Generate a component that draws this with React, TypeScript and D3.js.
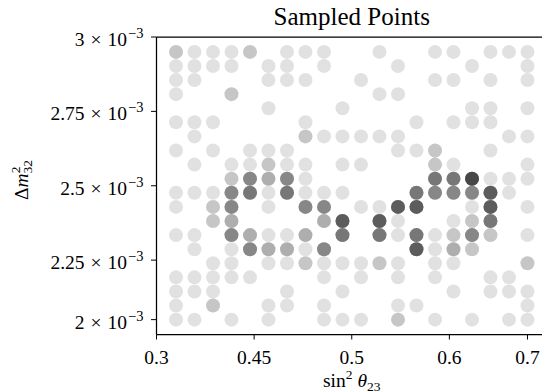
import React from "react";
import * as d3 from "d3";

// sin^2(theta23) sample grid (columns)
const xValues = [
  0.32, 0.3389, 0.3579, 0.3768, 0.3958, 0.4147, 0.4337, 0.4526, 0.4716, 0.4905,
  0.5095, 0.5284, 0.5474, 0.5663, 0.5853, 0.6042, 0.6232, 0.6421, 0.6611, 0.68,
];
// Delta m^2_32 sample grid (rows, top to bottom)
const yValues = [
  2.95e-3, 2.9026e-3, 2.8553e-3, 2.8079e-3, 2.7605e-3, 2.7132e-3, 2.6658e-3, 2.6184e-3,
  2.5711e-3, 2.5237e-3, 2.4763e-3, 2.4289e-3, 2.3816e-3, 2.3342e-3, 2.2868e-3, 2.2395e-3,
  2.1921e-3, 2.1447e-3, 2.0974e-3, 2.05e-3,
];
// number of samples at each grid cell (rows top to bottom, columns left to right)
const counts = [
  [2, 1, 1, 1, 2, 0, 1, 1, 1, 0, 0, 1, 0, 0, 1, 1, 0, 1, 1, 1],
  [1, 1, 1, 1, 0, 1, 1, 0, 1, 0, 0, 0, 1, 0, 0, 0, 1, 0, 0, 1],
  [1, 1, 0, 0, 0, 1, 1, 1, 0, 0, 1, 0, 0, 0, 1, 1, 0, 1, 0, 1],
  [1, 0, 0, 2, 0, 0, 0, 0, 0, 0, 0, 1, 1, 0, 0, 0, 0, 0, 0, 0],
  [0, 0, 0, 0, 0, 1, 0, 0, 0, 1, 0, 0, 0, 0, 0, 0, 1, 1, 0, 1],
  [1, 1, 1, 0, 0, 0, 0, 1, 0, 0, 0, 0, 0, 1, 0, 1, 1, 1, 0, 0],
  [0, 1, 0, 0, 0, 0, 0, 2, 1, 1, 1, 1, 1, 0, 0, 0, 0, 0, 1, 1],
  [1, 0, 1, 0, 1, 1, 1, 0, 0, 0, 0, 0, 1, 1, 2, 0, 0, 1, 0, 0],
  [0, 1, 0, 1, 1, 2, 1, 1, 0, 1, 1, 0, 0, 0, 2, 1, 0, 0, 0, 1],
  [0, 0, 0, 2, 5, 3, 5, 1, 0, 0, 0, 0, 0, 0, 6, 6, 10, 1, 1, 1],
  [1, 1, 1, 5, 6, 1, 6, 1, 1, 1, 0, 0, 0, 6, 5, 5, 5, 8, 1, 0],
  [1, 0, 2, 5, 0, 1, 0, 5, 5, 0, 1, 1, 8, 8, 0, 0, 1, 8, 0, 1],
  [0, 0, 2, 3, 0, 0, 0, 0, 3, 8, 0, 8, 1, 0, 0, 1, 2, 6, 0, 0],
  [1, 1, 0, 5, 3, 1, 1, 3, 0, 6, 0, 6, 1, 6, 1, 2, 5, 2, 0, 1],
  [0, 1, 0, 1, 5, 3, 3, 1, 5, 0, 0, 0, 0, 8, 1, 3, 2, 0, 0, 0],
  [0, 0, 1, 1, 0, 1, 1, 2, 1, 1, 1, 2, 1, 0, 1, 1, 0, 0, 0, 2],
  [1, 1, 1, 1, 1, 0, 0, 0, 1, 0, 1, 0, 1, 0, 1, 0, 0, 1, 1, 0],
  [1, 1, 1, 0, 0, 0, 1, 0, 0, 1, 0, 0, 0, 0, 0, 1, 0, 1, 1, 1],
  [1, 0, 2, 0, 0, 1, 1, 0, 1, 0, 0, 0, 1, 1, 0, 0, 0, 0, 0, 1],
  [1, 1, 0, 1, 0, 1, 0, 0, 1, 1, 1, 0, 2, 0, 1, 0, 1, 0, 1, 1],
];

const xTickValues = [0.3, 0.4, 0.5, 0.6, 0.68];
const xTickLabels = ["0.3", "0.45", "0.5", "0.6", "0.7"];
const yTickValues = [3e-3, 2.75e-3, 2.5e-3, 2.25e-3, 2.05e-3];
const yTickMantissas = ["3", "2.75", "2.5", "2.25", "2"];
const yTickExponent = "\u22123";
const title = "Sampled Points";

const W = 542;
const H = 392;
const FONT = '"Liberation Serif", "DejaVu Serif", serif';

export default function App() {
  const x = d3.scaleLinear().domain([0.3, 0.7]).range([156.5, 547]);
  const y = d3.scaleLinear().domain([2e-3, 3e-3]).range([334.5, 37]);

  const points: { x: number; y: number; key: string }[] = [];
  counts.forEach((row, i) =>
    row.forEach((n, j) => {
      for (let k = 0; k < n; k++) {
        points.push({ x: xValues[j], y: yValues[i], key: `${i}-${j}-${k}` });
      }
    })
  );

  const [x0, x1] = x.range();
  const [yb, yt] = y.range();
  const txt = { fontFamily: FONT, fill: "#000" } as React.CSSProperties;

  return (
    <svg
      width={W}
      height={H}
      style={{ position: "absolute", left: 0, top: 0, background: "#fff" }}
    >
      <rect x={0} y={0} width={W} height={H} fill="#fff" />
      <g>
        {points.map((p) => (
          <circle
            key={p.key}
            cx={x(p.x)}
            cy={y(p.y)}
            r={7}
            fill="#000"
            fillOpacity={0.118}
          />
        ))}
      </g>
      {/* spines */}
      <g stroke="#000" strokeWidth={1.25} fill="none">
        <line x1={x0} x2={x0} y1={yt} y2={yb} />
        <line x1={x0} x2={x1} y1={yt} y2={yt} />
        <line x1={x0} x2={x1} y1={yb} y2={yb} />
        <line x1={x1} x2={x1} y1={yt} y2={yb} />
      </g>
      {/* x ticks */}
      <g>
        {xTickValues.map((v, i) => (
          <g key={i} transform={`translate(${x(v)},${yb})`}>
            <line y1={0} y2={5} stroke="#000" strokeWidth={1} />
            <text y={29} textAnchor="middle" fontSize={19.5} style={txt}>
              {xTickLabels[i]}
            </text>
          </g>
        ))}
      </g>
      {/* y ticks */}
      <g>
        {yTickValues.map((v, i) => (
          <g key={i} transform={`translate(${x0},${y(v)})`}>
            <line x1={0} x2={-5.5} stroke="#000" strokeWidth={1} />
            <text x={-13} y={9} textAnchor="end" fontSize={19.5} style={txt}>
              <tspan>{yTickMantissas[i]}</tspan>
              <tspan dx={6}>{"\u00d7"}</tspan>
              <tspan dx={6}>10</tspan>
              <tspan dx={1} dy={-8} fontSize={14.5}>
                {yTickExponent}
              </tspan>
            </text>
          </g>
        ))}
      </g>
      {/* title */}
      <text x={(x0 + x1) / 2} y={25} textAnchor="middle" fontSize={25} style={txt}>
        {title}
      </text>
      {/* x label */}
      <text x={(x0 + x1) / 2} y={386.5} textAnchor="middle" fontSize={19.5} style={txt}>
        sin
        <tspan dy={-8} fontSize={13.5}>2</tspan>
        <tspan dx={5} dy={8} fontStyle="italic">θ</tspan>
        <tspan dy={4} fontSize={13.5}>23</tspan>
      </text>
      {/* y label */}
      <text
        transform={`translate(28,180) rotate(-90)`}
        textAnchor="middle"
        fontSize={19.5}
        style={txt}
      >
        Δ<tspan fontStyle="italic">m</tspan>
        <tspan dy={-8} fontSize={13.5}>2</tspan>
        <tspan dx={-7} dy={12} fontSize={13.5}>32</tspan>
      </text>
    </svg>
  );
}
